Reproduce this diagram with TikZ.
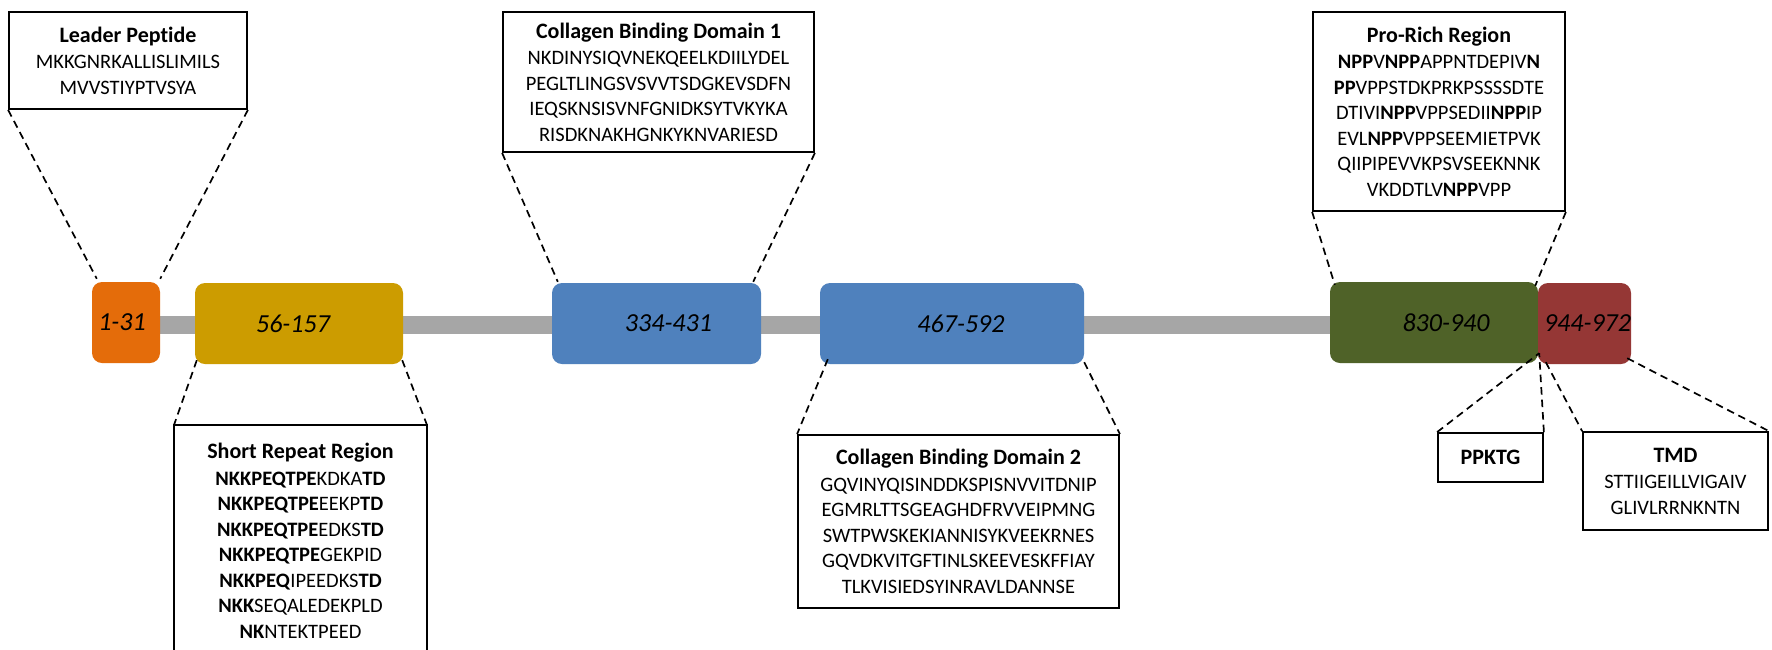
\documentclass[tikz,border=0pt]{standalone}
\usepackage{fontspec}
\setmainfont{Carlito}[Ligatures={NoCommon}]
\usetikzlibrary{calc}
\definecolor{cOrange}{HTML}{E46C0A}
\definecolor{cGold}{HTML}{CC9C00}
\definecolor{cBlue}{HTML}{4F81BD}
\definecolor{cGreen}{HTML}{4F6228}
\definecolor{cRed}{HTML}{953735}
\definecolor{cBar}{HTML}{A6A6A6}
\newcommand\seqfont{\fontsize{20.5pt}{25.5pt}\selectfont}
\newcommand\ttlfont{\fontsize{22pt}{25.5pt}\selectfont\bfseries}
\begin{document}
\begin{tikzpicture}[x=1pt,y=-1pt,
  dom/.style={rounded corners=10pt, inner sep=0pt, font=\fontsize{26pt}{30pt}\selectfont\itshape, text=black, minimum height=81pt},
  infobox/.style={draw=black, line width=1.8pt, inner sep=0pt, align=center, font=\seqfont},
  conn/.style={draw=black, line width=1.7pt, dash pattern=on 7.5pt off 5pt}
]
\useasboundingbox (0,0) rectangle (1772,649);
\fill[white] (0,0) rectangle (1772,649);
% backbone bar
\coordinate (barL) at (120,325);
\coordinate (barR) at (1590,325);
\draw[cBar, line width=18pt] (barL) -- (barR);
% domains
\node[dom, fill=cOrange, minimum width=68pt] (d1) at (126,322.5) {\hspace*{-8pt}1-31};
\node[dom, fill=cGold, minimum width=208pt] (d2) at (299,323.5) {\hspace*{-12pt}56-157};
\node[dom, fill=cBlue, minimum width=209pt] (d3) at (656.5,323.5) {\hspace*{24pt}334-431};
\node[dom, fill=cBlue, minimum width=264pt] (d4) at (952,323.5) {\hspace*{18pt}467-592};
\node[dom, fill=cGreen, minimum width=208pt] (d5) at (1434,322.5) {\hspace*{24pt}830-940};
\node[dom, fill=cRed, minimum width=87pt] (d6) at (1584.5,323.5) {\hspace*{6pt}944-972};
% info boxes
\node[infobox, minimum width=238pt, minimum height=97pt] (lp) at (128,60.5)
  {{\ttlfont Leader Peptide}\\[1pt] MKKGNRKALLISLIMILS\\ MVVSTIYPTVSYA};
\node[infobox, minimum width=311pt, minimum height=140pt] (cbd1) at (658.5,82)
  {{\ttlfont Collagen Binding Domain 1}\\[1pt] NKDINYSIQVNEKQEELKDIILYDEL\\ PEGLTLINGSVSVVTSDGKEVSDFN\\ IEQSKNSISVNFGNIDKSYTVKYKA\\ RISDKNAKHGNKYKNVARIESD};
\node[infobox, minimum width=252pt, minimum height=199pt] (prr) at (1439,111.5)
  {{\ttlfont Pro-Rich Region}\\[1pt]
   \textbf{NPP}V\textbf{NPP}APPNTDEPIV\textbf{N}\\
   \textbf{PP}VPPSTDKPRKPSSSSDTE\\
   DTIVI\textbf{NPP}VPPSEDII\textbf{NPP}IP\\
   EVL\textbf{NPP}VPPSEEMIETPVK\\
   QIIPIPEVVKPSVSEEKNNK\\
   VKDDTLV\textbf{NPP}VPP};
\node[infobox, draw=none, minimum width=253pt] (srr) at (300.5,541)
  {{\ttlfont Short Repeat Region}\\[1pt]
   \textbf{NKKPEQTPE}KDKA\textbf{TD}\\
   \textbf{NKKPEQTPE}EEKP\textbf{TD}\\
   \textbf{NKKPEQTPE}EDKS\textbf{TD}\\
   \textbf{NKKPEQTPE}GEKPID\\
   \textbf{NKKPEQ}IPEEDKS\textbf{TD}\\
   \textbf{NKK}SEQALEDEKPLD\\
   \textbf{NK}NTEKTPEED};
\coordinate (srrNW) at (174,425);
\coordinate (srrNE) at (427,425);
\coordinate (srrSW) at (174,680);
\coordinate (srrSE) at (427,680);
\draw[black, line width=1.8pt] (srrSW) -- (srrNW) -- (srrNE) -- (srrSE);
\node[infobox, minimum width=321pt, minimum height=173pt] (cbd2) at (958.5,521.5)
  {{\ttlfont Collagen Binding Domain 2}\\[1pt] GQVINYQISINDDKSPISNVVITDNIP\\ EGMRLTTSGEAGHDFRVVEIPMNG\\ SWTPWSKEKIANNISYKVEEKRNES\\ GQVDKVITGFTINLSKEEVESKFFIAY\\ TLKVISIEDSYINRAVLDANNSE};
\node[infobox, minimum width=105pt, minimum height=49pt] (ppktg) at (1490.5,457.5)
  {{\ttlfont PPKTG}};
\node[infobox, minimum width=185pt, minimum height=98pt] (tmd) at (1675.5,481)
  {{\ttlfont TMD}\\[1pt] STTIIGEILLVIGAIV\\ GLIVLRRNKNTN};
% connectors
\draw[conn] (lp.south west) -- ([xshift=5pt,yshift=3pt]d1.north west);
\draw[conn] (lp.south east) -- ([yshift=3pt]d1.north east);
\draw[conn] (cbd1.south west) -- ([xshift=6pt,yshift=1pt]d3.north west);
\draw[conn] (cbd1.south east) -- ([xshift=-8pt,yshift=1pt]d3.north east);
\draw[conn] (prr.south west) -- ([xshift=5pt,yshift=-3pt]d5.north west);
\draw[conn] (prr.south east) -- ([xshift=-3pt,yshift=-4pt]d5.north east);
\draw[conn] ([xshift=2pt,yshift=4pt]d2.south west) -- (srrNW);
\draw[conn] ([xshift=-1pt,yshift=4pt]d2.south east) -- (srrNE);
\draw[conn] ([xshift=8pt,yshift=5pt]d4.south west) -- (cbd2.north west);
\draw[conn] ([yshift=2pt]d4.south east) -- (cbd2.north east);
\coordinate (gap) at ([xshift=1pt,yshift=10pt]d5.south east);
\draw[conn] (ppktg.north west) -- (gap);
\draw[conn] (ppktg.north east) -- (gap);
\draw[conn] ([xshift=8pt,yshift=2pt]d6.south west) -- (tmd.north west);
\draw[conn] ([xshift=-4pt,yshift=6pt]d6.south east) -- (tmd.north east);
\end{tikzpicture}
\end{document}
